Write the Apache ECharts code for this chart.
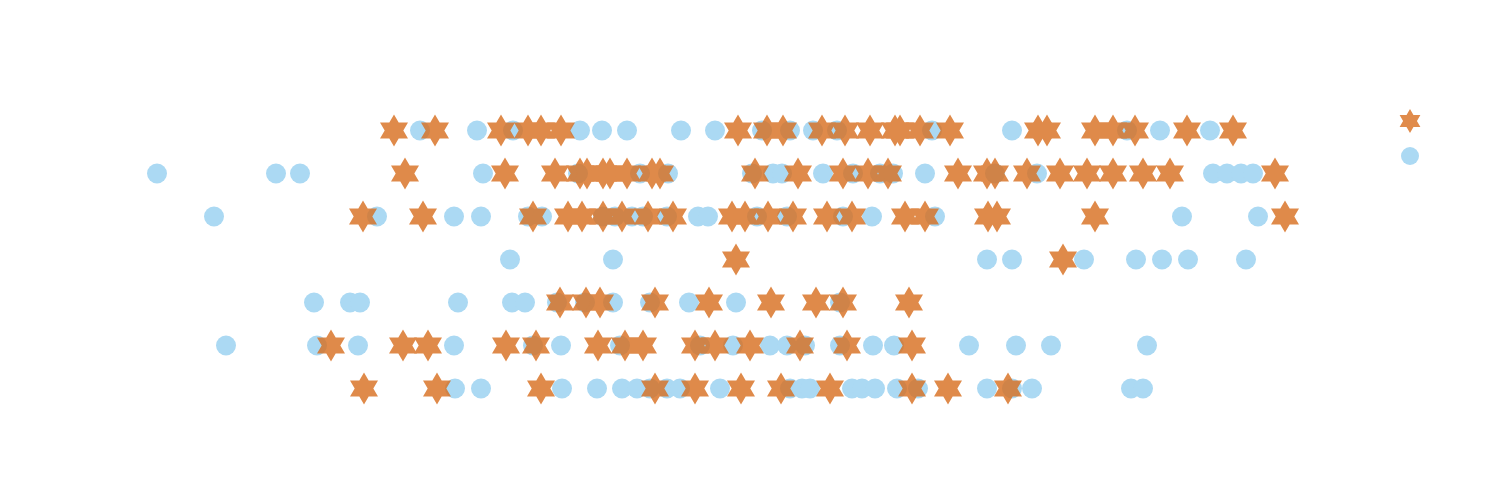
<!DOCTYPE html>
<html>
<head>
<meta charset="utf-8">
<script src="https://cdn.jsdelivr.net/npm/echarts@6/dist/echarts.min.js"></script>
<style>html,body{margin:0;padding:0;background:#fff;}#main{width:1500px;height:500px;}</style>
</head>
<body>
<div id="main"></div>
<script>
// Row categories (top to bottom)
const rows = ['1', '2', '3', '4', '5', '6', '7'];
const seriesNames = ['star', 'circle'];

// Circle series x values per row (axis units 0..150)
const circleRow1 = [42.0, 47.7, 51.3, 58.0, 60.2, 62.7, 68.1, 71.5, 76.2, 79.0, 81.3, 83.7, 93.2, 101.2, 112.7, 116.0, 121.0];
const circleRow2 = [15.7, 27.6, 30.0, 48.3, 57.8, 64.0, 66.8, 75.2, 77.3, 78.2, 82.3, 85.3, 88.0, 89.3, 92.5, 99.5, 103.7, 121.3, 122.7, 124.1, 125.3];
const circleRow3 = [21.4, 37.7, 45.4, 48.1, 52.8, 54.2, 60.3, 61.5, 63.2, 64.3, 66.7, 69.8, 70.8, 75.7, 78.7, 84.3, 87.2, 93.5, 118.2, 125.8];
const circleRow4 = [51.0, 61.3, 98.7, 101.2, 108.4, 113.6, 116.2, 118.8, 124.6];
const circleRow5 = [31.4, 35.0, 36.0, 45.8, 51.2, 52.5, 55.7, 58.5, 61.3, 65.0, 68.9, 73.6, 84.0];
const circleRow6 = [22.6, 31.7, 35.8, 45.4, 53.3, 56.1, 62.0, 70.0, 73.3, 77.0, 78.7, 80.5, 84.0, 87.3, 89.4, 96.9, 101.6, 105.1, 114.7];
const circleRow7 = [45.5, 48.1, 56.2, 59.7, 62.2, 63.7, 65.0, 66.7, 68.0, 72.0, 79.0, 80.2, 81.0, 85.2, 86.2, 87.5, 89.7, 91.8, 98.7, 101.2, 103.2, 113.1, 114.3];

// Star series x values per row
const starRow1 = [39.4, 43.5, 50.1, 52.8, 54.1, 56.1, 73.8, 76.7, 78.3, 82.2, 84.5, 87.0, 89.5, 90.0, 92.0, 95.0, 103.8, 104.7, 109.5, 111.3, 113.5, 118.7, 123.3];
const starRow2 = [40.5, 50.5, 55.5, 58.0, 58.7, 60.3, 61.0, 62.7, 65.2, 66.0, 75.5, 79.8, 84.3, 86.8, 88.8, 95.8, 98.7, 99.5, 102.7, 106.0, 108.7, 111.3, 114.3, 117.0, 127.5];
const starRow3 = [36.3, 42.3, 53.3, 56.8, 58.2, 60.3, 62.2, 64.8, 67.3, 73.2, 74.5, 76.8, 79.3, 82.7, 85.2, 90.5, 92.5, 98.8, 99.7, 109.5, 128.5];
const starRow4 = [73.6, 106.3];
const starRow5 = [56.0, 58.6, 60.0, 65.5, 70.9, 77.1, 81.6, 84.3, 90.9];
const starRow6 = [33.1, 40.3, 42.8, 50.6, 53.6, 59.8, 62.5, 64.3, 69.5, 71.5, 75.0, 80.0, 84.7, 91.2];
const starRow7 = [36.4, 43.7, 54.1, 65.5, 69.5, 74.1, 78.1, 83.0, 91.2, 94.8, 100.8];

const circleRows = [circleRow1, circleRow2, circleRow3, circleRow4, circleRow5, circleRow6, circleRow7];
const starRows = [starRow1, starRow2, starRow3, starRow4, starRow5, starRow6, starRow7];

function toPoints(rowArrays) {
  const out = [];
  rowArrays.forEach((arr, r) => arr.forEach(v => out.push([v, r])));
  return out;
}

const starPath = 'path://M0,-1000 L289,-500 L866,-500 L577,0 L866,500 L289,500 L0,1000 L-289,500 L-866,500 L-577,0 L-866,-500 L-289,-500 Z';
const circleColor = '#abd9f3';
const starBaseColor = '#d86e1e';   // drawn on its own layer at 0.8 opacity
const starLegendColor = '#e08b4b'; // same colour as seen over white

const chart = echarts.init(document.getElementById('main'), null, { renderer: 'canvas' });
chart.setOption({
  animation: false,
  backgroundColor: '#ffffff',
  grid: { left: 0, right: 0, top: 109, height: 301, containLabel: false },
  xAxis: { type: 'value', min: 0, max: 150, show: false },
  yAxis: { type: 'category', data: rows, inverse: true, show: false },
  legend: [
    {
      orient: 'vertical',
      left: 1399,
      top: 109,
      padding: 0,
      itemWidth: 22,
      itemHeight: 24,
      data: [{ name: seriesNames[0], icon: starPath, itemStyle: { color: starLegendColor, opacity: 1 } }],
      formatter: function () { return ''; }
    },
    {
      orient: 'vertical',
      left: 1401,
      top: 147,
      padding: 0,
      itemWidth: 18,
      itemHeight: 18,
      data: [{ name: seriesNames[1], icon: 'circle', itemStyle: { color: circleColor, opacity: 1 } }],
      formatter: function () { return ''; }
    }
  ],
  series: [
    {
      name: seriesNames[1],
      type: 'scatter',
      symbol: 'circle',
      symbolSize: 20,
      itemStyle: { color: circleColor, opacity: 1 },
      data: toPoints(circleRows)
    },
    {
      name: seriesNames[0],
      type: 'scatter',
      zlevel: 1,
      symbol: starPath,
      symbolSize: [28, 32],
      itemStyle: { color: starBaseColor, opacity: 1 },
      data: toPoints(starRows)
    }
  ]
});
// Give the star layer a single, layer-wide opacity so overlapping stars do not darken each other
try {
  const layer = chart.getZr().painter.getLayer(1);
  if (layer && layer.dom) layer.dom.style.opacity = '0.8';
} catch (e) {}
</script>
</body>
</html>
